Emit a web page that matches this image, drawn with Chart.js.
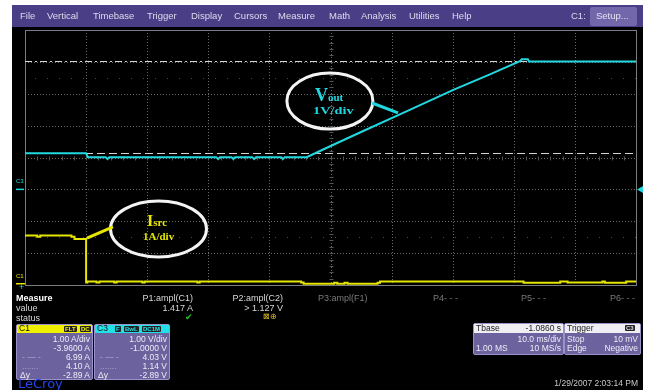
<!DOCTYPE html>
<html>
<head>
<meta charset="utf-8">
<script src="https://cdn.jsdelivr.net/npm/chart.js@4"></script>
<style>
  html,body{margin:0;padding:0;background:#fff;width:651px;height:390px;overflow:hidden;}
  #scope{position:absolute;left:12px;top:27px;width:631px;height:363px;background:#000;}
  #menu{position:absolute;left:12px;top:5px;width:631px;height:22px;background:#4a3e86;}
  #chart{position:absolute;left:0;top:0;}
  .t{position:absolute;white-space:nowrap;font-family:"Liberation Sans",Arial,sans-serif;}
  .m{font-size:9.5px;color:#dcdcee;top:11px;line-height:10px;}
  #setup{position:absolute;left:590px;top:7px;width:47px;height:19px;background:#7167aa;border-radius:2px;}
  .w{color:#d8d8d8;font-size:9px;line-height:10px;}
  .g{color:#7a7a7a;font-size:9px;line-height:10px;}
  .box{position:absolute;background:#6c629e;border:1px solid #9a92c8;border-radius:2px;}
  .hd{position:absolute;left:0;top:0;right:0;height:8px;}
  .bt{position:absolute;font-family:"Liberation Sans",Arial,sans-serif;font-size:8.5px;line-height:9px;color:#ececf6;white-space:nowrap;}
  .badge{position:absolute;top:1px;height:6px;font-size:6px;line-height:6px;font-weight:bold;background:#222;border-radius:1px;padding:0 1px;font-family:"Liberation Sans",Arial,sans-serif;}
  .ann{position:absolute;font-family:"Liberation Serif","Times New Roman",serif;font-weight:bold;white-space:nowrap;transform-origin:0 0;}
</style>
</head>
<body>
<div id="scope"></div>
<div id="menu"></div>
<div id="setup"></div>
<canvas id="chart" width="651" height="390"></canvas>

<!-- menu -->
<div class="t m" style="left:20px">File</div>
<div class="t m" style="left:47px">Vertical</div>
<div class="t m" style="left:93px">Timebase</div>
<div class="t m" style="left:147px">Trigger</div>
<div class="t m" style="left:191px">Display</div>
<div class="t m" style="left:234px">Cursors</div>
<div class="t m" style="left:278px">Measure</div>
<div class="t m" style="left:329px">Math</div>
<div class="t m" style="left:361px">Analysis</div>
<div class="t m" style="left:409px">Utilities</div>
<div class="t m" style="left:452px">Help</div>
<div class="t m" style="left:571px">C1:</div>
<div class="t m" style="left:596px;color:#e4e2f2">Setup...</div>

<!-- channel markers -->
<div class="t" style="left:16px;top:178px;font-size:6px;line-height:6px;color:#22d8e0">C3</div>
<div class="t" style="left:16px;top:273px;font-size:6px;line-height:6px;color:#e6e600">C1</div>
<div class="t" style="left:19px;top:283px;font-size:9px;line-height:9px;color:#22d8e0">+</div>

<!-- annotations -->
<div class="ann" style="left:315px;top:86px;font-size:18px;line-height:18px;color:#22d8e0">V<span style="font-size:11px">out</span></div>
<div class="ann" style="left:313px;top:105px;font-size:11px;line-height:11px;color:#22d8e0;transform:scaleX(1.3)">1V/div</div>
<div class="ann" style="left:147px;top:213px;font-size:16px;line-height:16px;color:#e6e600">I<span style="font-size:11px">src</span></div>
<div class="ann" style="left:143px;top:231px;font-size:11px;line-height:11px;color:#e6e600">1A/div</div>

<!-- measure table -->
<div class="t" style="left:16px;top:293px;font-size:9px;line-height:10px;color:#fff;font-weight:bold">Measure</div>
<div class="t w" style="left:16px;top:303px">value</div>
<div class="t w" style="left:16px;top:313px">status</div>
<div class="t w" style="right:458px;top:293px">P1:ampl(C1)</div>
<div class="t w" style="right:458px;top:303px">1.417 A</div>
<div class="t" style="left:185px;top:312px;font-size:9px;line-height:10px;color:#22c022">✔</div>
<div class="t w" style="right:368px;top:293px">P2:ampl(C2)</div>
<div class="t w" style="right:368px;top:303px">&gt; 1.127 V</div>
<div class="t" style="left:263px;top:312px;font-size:8px;line-height:10px;color:#e0c020">⊠⊕</div>
<div class="t g" style="left:318px;top:293px">P3:ampl(F1)</div>
<div class="t g" style="left:433px;top:293px">P4- - -</div>
<div class="t g" style="left:521px;top:293px">P5- - -</div>
<div class="t g" style="left:610px;top:293px">P6- - -</div>

<!-- C1 box -->
<div class="box" style="left:16px;top:324px;width:75px;height:54px;">
  <div class="hd" style="background:#f0f000"></div>
  <div class="bt" style="left:2px;top:-1px;color:#111">C1</div>
  <div class="badge" style="left:47px;color:#f0f000">FLT</div>
  <div class="badge" style="left:63px;color:#f0f000">DC</div>
  <div class="bt" style="right:2px;top:10px">1.00 A/div</div>
  <div class="bt" style="right:2px;top:19px">-3.9600 A</div>
  <div class="bt" style="left:5px;top:28px;color:#aaa4cc">- — -</div>
  <div class="bt" style="right:2px;top:28px">6.99 A</div>
  <div class="bt" style="left:5px;top:37px;color:#aaa4cc">.......</div>
  <div class="bt" style="right:2px;top:37px">4.10 A</div>
  <div class="bt" style="left:3px;top:46px">Δy</div>
  <div class="bt" style="right:2px;top:46px">-2.89 A</div>
</div>
<!-- C3 box -->
<div class="box" style="left:94px;top:324px;width:74px;height:54px;">
  <div class="hd" style="background:#22e0e8"></div>
  <div class="bt" style="left:2px;top:-1px;color:#111">C3</div>
  <div class="badge" style="left:20px;color:#22e0e8">F</div>
  <div class="badge" style="left:29px;color:#22e0e8">BwL</div>
  <div class="badge" style="left:47px;color:#22e0e8">DC1M</div>
  <div class="bt" style="right:2px;top:10px">1.00 V/div</div>
  <div class="bt" style="right:2px;top:19px">-1.0000 V</div>
  <div class="bt" style="left:5px;top:28px;color:#aaa4cc">- — -</div>
  <div class="bt" style="right:2px;top:28px">4.03 V</div>
  <div class="bt" style="left:5px;top:37px;color:#aaa4cc">.......</div>
  <div class="bt" style="right:2px;top:37px">1.14 V</div>
  <div class="bt" style="left:3px;top:46px">Δy</div>
  <div class="bt" style="right:2px;top:46px">-2.89 V</div>
</div>
<!-- Tbase box -->
<div class="box" style="left:473px;top:323px;width:89px;height:30px;">
  <div class="hd" style="background:#eeeef4;height:9px"></div>
  <div class="bt" style="left:2px;top:0px;color:#222">Tbase</div>
  <div class="bt" style="right:2px;top:0px;color:#222">-1.0860 s</div>
  <div class="bt" style="right:2px;top:11px">10.0 ms/div</div>
  <div class="bt" style="left:2px;top:20px">1.00 MS</div>
  <div class="bt" style="right:2px;top:20px">10 MS/s</div>
</div>
<!-- Trigger box -->
<div class="box" style="left:564px;top:323px;width:75px;height:30px;">
  <div class="hd" style="background:#eeeef4;height:9px"></div>
  <div class="bt" style="left:2px;top:0px;color:#222">Trigger</div>
  <div class="badge" style="left:60px;top:1px;color:#ddd">C3</div>
  <div class="bt" style="left:2px;top:11px">Stop</div>
  <div class="bt" style="right:2px;top:11px">10 mV</div>
  <div class="bt" style="left:2px;top:20px">Edge</div>
  <div class="bt" style="right:2px;top:20px">Negative</div>
</div>

<div class="t" style="left:18px;top:377px;font-size:13px;line-height:13px;color:#2244ee;font-family:'DejaVu Sans',sans-serif">LeCroy</div>
<div class="t" style="right:13px;top:378px;font-size:8.5px;line-height:10px;color:#c8c8c8">1/29/2007 2:03:14 PM</div>

<script>
// ---- data (time in ms, 10 ms/div) ----
const voutTime  = [0, 10.0, 10.3, 13.2, 13.5, 13.8, 31.3, 31.6, 31.9, 33.8, 34.1, 34.4, 37.2, 37.5, 37.8, 41.9, 42.2, 42.5, 46.1, 48.8, 55.0, 61.0, 70.1, 76.0, 81.0, 81.3, 82.3, 82.5, 100];
const voutVolts = [1.13, 1.13, 1.01, 1.01, 0.95, 1.01, 1.01, 0.95, 1.01, 1.01, 0.95, 1.01, 1.01, 0.95, 1.01, 1.01, 0.95, 1.01, 1.01, 1.25, 1.80, 2.32, 3.12, 3.60, 4.02, 4.08, 4.08, 4.01, 4.01];

const isrcTime = [0, 2.0, 2.5, 7.6, 8.1, 10.0, 10.2, 11.7, 12.2, 14.6, 15.0, 19.2, 19.6, 28.2, 28.6, 45.2, 45.6, 50.6, 51.1, 52.3, 52.8, 57.7, 58.1, 81.6, 87.6, 88.8, 94.5, 94.9, 98.4, 99.3, 100];
const isrcAmps = [1.47, 1.51, 1.47, 1.51, 1.47, 1.40, 0.04, 0.07, 0.04, 0.07, 0.04, 0.07, 0.04, 0.07, 0.04, 0.07, 0.04, 0.0, 0.03, 0.0, 0.03, 0.0, 0.03, 0.07, 0.03, 0.07, 0.04, 0.07, 0.03, 0.07, 0.07];

// cursor levels (C3 volts)
const cursorLevels = [4.03, 1.14];
// faint reference rows (C3 volts)
const refRows = [3.5, -1.5];
// scale ranges
const timeRange = [0, 100];
const voltRange = [-3, 5];       // 1 V/div, offset -1 V
const ampRange  = [-0.04, 7.96]; // 1 A/div, offset -3.96 A

const pts = (xs, ys) => xs.map((x, i) => ({x, y: ys[i]}));

const scopeGrid = {
  id: 'scopeGrid',
  beforeDatasetsDraw(chart) {
    const {ctx, chartArea: a, scales} = chart;
    const xs = scales.x, yv = scales.yV;
    ctx.save();
    ctx.strokeStyle = '#6a6a6a';
    ctx.lineWidth = 1;
    ctx.setLineDash([1, 2]);
    for (let i = 1; i < 10; i++) {
      const x = Math.round(xs.getPixelForValue(i * 10)) + 0.5;
      ctx.beginPath(); ctx.moveTo(x, a.top); ctx.lineTo(x, a.bottom); ctx.stroke();
    }
    for (let j = 1; j < 8; j++) {
      const y = Math.round(yv.getPixelForValue(voltRange[0] + j)) + 0.5;
      ctx.beginPath(); ctx.moveTo(a.left, y); ctx.lineTo(a.right, y); ctx.stroke();
    }
    // faint rows
    ctx.strokeStyle = '#4a4a4a';
    ctx.setLineDash([1, 11]);
    refRows.forEach(v => {
      const y = Math.round(yv.getPixelForValue(v)) + 0.5;
      ctx.beginPath(); ctx.moveTo(a.left + 10, y); ctx.lineTo(a.right, y); ctx.stroke();
    });
    // centre ticks
    ctx.setLineDash([]);
    ctx.strokeStyle = '#555555';
    const cx = Math.round(xs.getPixelForValue(50)) + 0.5;
    const cy = Math.round(yv.getPixelForValue(1)) + 0.5;
    for (let t = 0; t <= 100; t += 2) {
      const x = Math.round(xs.getPixelForValue(t)) + 0.5;
      ctx.beginPath(); ctx.moveTo(x, cy - 2); ctx.lineTo(x, cy + 2); ctx.stroke();
    }
    for (let v = voltRange[0]; v <= voltRange[1]; v += 0.2) {
      const y = Math.round(yv.getPixelForValue(v)) + 0.5;
      ctx.beginPath(); ctx.moveTo(cx - 2, y); ctx.lineTo(cx + 2, y); ctx.stroke();
    }
    // frame
    ctx.strokeStyle = '#7c7c7c';
    ctx.strokeRect(Math.round(a.left) + 0.5, Math.round(a.top) + 0.5, Math.round(a.right - a.left), Math.round(a.bottom - a.top));
    // cursors
    ctx.lineWidth = 1;
    ctx.strokeStyle = '#d4d4d4';
    ctx.setLineDash([7, 3, 2, 3]);
    let y = Math.round(yv.getPixelForValue(cursorLevels[0])) + 0.5;
    ctx.beginPath(); ctx.moveTo(a.left, y); ctx.lineTo(a.right, y); ctx.stroke();
    ctx.setLineDash([8, 4]);
    y = Math.round(yv.getPixelForValue(cursorLevels[1])) + 0.5;
    ctx.beginPath(); ctx.moveTo(a.left, y); ctx.lineTo(a.right, y); ctx.stroke();
    ctx.restore();
  },
  afterDatasetsDraw(chart) {
    const {ctx, scales} = chart;
    const xs = scales.x, yv = scales.yV, ya = scales.yA;
    ctx.save();
    // ellipses
    ctx.strokeStyle = '#f4f4f4';
    ctx.lineWidth = 3;
    ctx.beginPath();
    ctx.ellipse(xs.getPixelForValue(49.9), yv.getPixelForValue(2.77), 43, 28, 0, 0, Math.PI * 2);
    ctx.stroke();
    ctx.beginPath();
    ctx.ellipse(xs.getPixelForValue(21.85), ya.getPixelForValue(1.72), 48, 28, 0, 0, Math.PI * 2);
    ctx.stroke();
    // leaders
    ctx.lineWidth = 3;
    ctx.strokeStyle = '#22d8e0';
    ctx.beginPath();
    ctx.moveTo(xs.getPixelForValue(56.8), yv.getPixelForValue(2.71));
    ctx.lineTo(xs.getPixelForValue(61.05), yv.getPixelForValue(2.40));
    ctx.stroke();
    ctx.strokeStyle = '#e6e600';
    ctx.beginPath();
    ctx.moveTo(xs.getPixelForValue(10.15), ya.getPixelForValue(1.43));
    ctx.lineTo(xs.getPixelForValue(14.4), ya.getPixelForValue(1.78));
    ctx.stroke();
    // channel ground markers
    ctx.lineWidth = 1.5;
    ctx.strokeStyle = '#22d8e0';
    let y = yv.getPixelForValue(0);
    ctx.beginPath(); ctx.moveTo(16, y); ctx.lineTo(24, y); ctx.stroke();
    ctx.strokeStyle = '#e6e600';
    y = ya.getPixelForValue(0);
    ctx.beginPath(); ctx.moveTo(16, y); ctx.lineTo(25, y); ctx.stroke();
    // trigger marker right
    ctx.fillStyle = '#22d8e0';
    y = yv.getPixelForValue(0);
    ctx.beginPath(); ctx.moveTo(637, y); ctx.lineTo(643, y - 3.5); ctx.lineTo(643, y + 3.5); ctx.closePath(); ctx.fill();
    ctx.restore();
  }
};

new Chart(document.getElementById('chart'), {
  type: 'line',
  data: {
    datasets: [
      { label: 'Vout', data: pts(voutTime, voutVolts), yAxisID: 'yV', borderColor: '#22d8e0', borderWidth: 2, pointRadius: 0, tension: 0, fill: false },
      { label: 'Isrc', data: pts(isrcTime, isrcAmps), yAxisID: 'yA', borderColor: '#e6e600', borderWidth: 2, pointRadius: 0, stepped: 'after', fill: false }
    ]
  },
  options: {
    responsive: false,
    animation: false,
    devicePixelRatio: 1,
    layout: { padding: { left: 25, top: 30, right: 15, bottom: 105 } },
    plugins: { legend: { display: false }, tooltip: { enabled: false } },
    scales: {
      x: { type: 'linear', min: timeRange[0], max: timeRange[1], display: false },
      yV: { type: 'linear', min: voltRange[0], max: voltRange[1], display: false },
      yA: { type: 'linear', min: ampRange[0], max: ampRange[1], display: false }
    }
  },
  plugins: [scopeGrid]
});
</script>
</body>
</html>
